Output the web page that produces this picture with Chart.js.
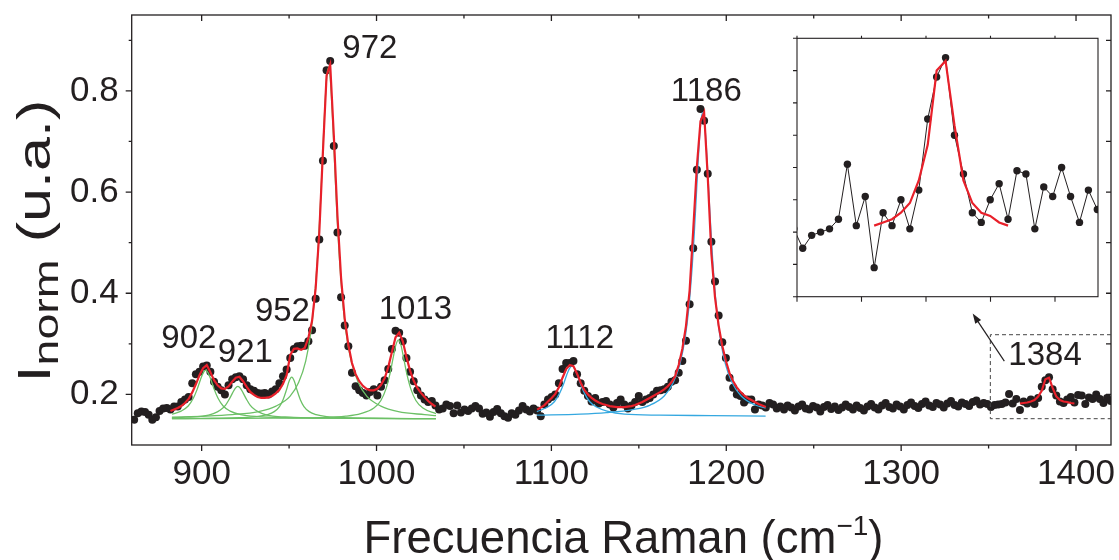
<!DOCTYPE html>
<html>
<head>
<meta charset="utf-8">
<title>Espectro Raman</title>
<script src="https://cdn.jsdelivr.net/npm/chart.js@4.4.1/dist/chart.umd.min.js"></script>
<style>
  html, body { margin: 0; padding: 0; background: #ffffff; }
  #wrap { position: relative; width: 1119px; height: 560px; overflow: hidden; }
  #main { position: absolute; left: 0; top: 0; }
  #inset { position: absolute; left: 777px; top: 24px; }
</style>
</head>
<body>
<div id="wrap">
  <canvas id="main" width="1119" height="560"></canvas>
  <canvas id="inset" width="330" height="285"></canvas>
</div>
<script>
// ---- Spectrum sampling grid (cm^-1) ----
const ramanStart = 861.4;
const ramanStep = 2.076;

// ---- Measured normalised intensity, split into regions (start index on the grid) ----
const intensityLowStart = 0;      // 861 – 1044 cm^-1
const intensityLow = [
  0.150, 0.163, 0.166, 0.165, 0.160, 0.150, 0.155, 0.167, 0.172, 0.173,
  0.170, 0.176, 0.176, 0.185, 0.190, 0.195, 0.222, 0.240, 0.245, 0.255,
  0.257, 0.245, 0.225, 0.215, 0.208, 0.200, 0.218, 0.230, 0.234, 0.236,
  0.230, 0.218, 0.210, 0.207, 0.203, 0.202, 0.203, 0.200, 0.206, 0.210,
  0.222, 0.236, 0.249, 0.272, 0.290, 0.295, 0.296, 0.296, 0.305, 0.327,
  0.389, 0.506, 0.662, 0.841, 0.859, 0.691, 0.520, 0.392, 0.336, 0.295,
  0.243, 0.216, 0.208, 0.203, 0.198, 0.205, 0.210, 0.198, 0.215, 0.228,
  0.250, 0.290, 0.326, 0.322, 0.305, 0.272, 0.245, 0.226, 0.208, 0.198,
  0.190, 0.185, 0.187, 0.178, 0.170, 0.172, 0.180, 0.177, 0.163
];
const intensityMidStart = 89;     // 1046 – 1225 cm^-1
const intensityMid = [
  0.178, 0.164, 0.170, 0.167, 0.172, 0.177, 0.172, 0.162, 0.164, 0.156,
  0.165, 0.171, 0.163, 0.157, 0.154, 0.163, 0.160, 0.168, 0.177, 0.170,
  0.166, 0.172, 0.168, 0.157, 0.180, 0.190, 0.195, 0.200, 0.222, 0.250,
  0.262, 0.262, 0.266, 0.240, 0.222, 0.207, 0.197, 0.186, 0.193, 0.182,
  0.185, 0.187, 0.180, 0.174, 0.183, 0.190, 0.180, 0.172, 0.178, 0.185,
  0.197, 0.185, 0.190, 0.193, 0.200, 0.207, 0.208, 0.210, 0.215, 0.225,
  0.228, 0.243, 0.266, 0.306, 0.378, 0.489, 0.644, 0.764, 0.741, 0.636,
  0.502, 0.423, 0.356, 0.303, 0.272, 0.233, 0.213, 0.200, 0.197, 0.184,
  0.190, 0.190, 0.170, 0.180, 0.178, 0.174, 0.183
];
const intensityHighStart = 176;   // 1227 – 1347 cm^-1
const intensityHigh = [
  0.180, 0.172, 0.176, 0.170, 0.178, 0.174, 0.168, 0.176, 0.180, 0.172,
  0.170, 0.177, 0.174, 0.166, 0.175, 0.179, 0.171, 0.176, 0.169, 0.174,
  0.180, 0.175, 0.170, 0.178, 0.173, 0.168, 0.176, 0.181, 0.174, 0.170,
  0.178, 0.183, 0.175, 0.172, 0.180, 0.176, 0.170, 0.179, 0.184, 0.177,
  0.173, 0.181, 0.186, 0.178, 0.175, 0.183, 0.180, 0.174, 0.182, 0.187,
  0.179, 0.176, 0.184, 0.181, 0.177, 0.185, 0.188, 0.180, 0.183
];
const intensityTailStart = 235;   // 1349 – 1420 cm^-1
const intensityTail = [
  0.181, 0.175, 0.179, 0.180, 0.181, 0.184, 0.201, 0.182, 0.191, 0.169,
  0.186, 0.182, 0.190, 0.181, 0.193, 0.215, 0.228, 0.234, 0.210, 0.198,
  0.186, 0.183, 0.190, 0.195, 0.184, 0.199, 0.198, 0.181, 0.194, 0.191,
  0.200, 0.191, 0.183, 0.193, 0.187
];

// ---- Fitted envelopes (red), on the same grid ----
const fitLowStart = 10;
const fitLow = [
  0.167, 0.170, 0.173, 0.177, 0.183, 0.191, 0.204, 0.220, 0.238, 0.252,
  0.258, 0.244, 0.228, 0.218, 0.212, 0.211, 0.216, 0.225, 0.233, 0.235,
  0.226, 0.215, 0.205, 0.199, 0.195, 0.193, 0.193, 0.194, 0.197, 0.202,
  0.209, 0.221, 0.238, 0.278, 0.290, 0.291, 0.288, 0.292, 0.312, 0.345,
  0.410, 0.520, 0.680, 0.830, 0.852, 0.712, 0.553, 0.430, 0.350, 0.298,
  0.262, 0.240, 0.226, 0.217, 0.211, 0.208, 0.208, 0.211, 0.219, 0.232,
  0.254, 0.284, 0.313, 0.322, 0.305, 0.274, 0.247, 0.227, 0.213, 0.203,
  0.195, 0.187, 0.181, 0.176
];
const fitMidStart = 111;
const fitMid = [
  0.170, 0.174, 0.179, 0.186, 0.193, 0.201, 0.214, 0.233, 0.250, 0.258,
  0.256, 0.241, 0.223, 0.209, 0.200, 0.193, 0.188, 0.184, 0.181, 0.179,
  0.177, 0.176, 0.175, 0.175, 0.175, 0.176, 0.177, 0.179, 0.182, 0.185,
  0.189, 0.193, 0.197, 0.201, 0.205, 0.210, 0.216, 0.224, 0.236, 0.258,
  0.290, 0.335, 0.405, 0.525, 0.650, 0.740, 0.757, 0.630, 0.478, 0.392,
  0.336, 0.296, 0.266, 0.242, 0.226, 0.214, 0.205, 0.198, 0.193, 0.189,
  0.185, 0.181, 0.178, 0.175
];
const fitHighStart = 244;
const fitHigh = [
  0.182, 0.183, 0.184, 0.186, 0.189, 0.196, 0.207, 0.230, 0.233, 0.213,
  0.196, 0.189, 0.186, 0.185, 0.183, 0.182
];

// ---- Lorentzian components, 880–1035 cm^-1 (green) ----
const comp902X = [883, 888.3, 892.3, 895.3, 897.3, 899.3, 900.8, 902.3, 903.8, 905.3, 907.3, 909.3, 912.3, 916.3, 922.3, 932.3, 947.3, 970, 1034];
const comp902Y = [0.161, 0.167, 0.177, 0.193, 0.209, 0.229, 0.242, 0.248, 0.242, 0.229, 0.209, 0.193, 0.177, 0.167, 0.160, 0.156, 0.154, 0.153, 0.152];
const comp921X = [883, 890.7, 900.7, 906.7, 910.7, 913.7, 915.7, 917.7, 919.2, 920.7, 922.2, 923.7, 925.7, 927.7, 930.7, 934.7, 940.7, 950.7, 965.7, 1034];
const comp921Y = [0.154, 0.155, 0.157, 0.162, 0.169, 0.179, 0.190, 0.203, 0.212, 0.216, 0.212, 0.203, 0.190, 0.179, 0.169, 0.162, 0.157, 0.155, 0.153, 0.152];
const comp952X = [883, 906.5, 921.5, 931.5, 937.5, 941.5, 944.5, 946.5, 948.5, 950, 951.5, 953, 954.5, 956.5, 958.5, 961.5, 965.5, 971.5, 981.5, 996.5, 1034];
const comp952Y = [0.152, 0.153, 0.154, 0.156, 0.160, 0.166, 0.176, 0.189, 0.209, 0.226, 0.234, 0.226, 0.209, 0.189, 0.176, 0.166, 0.160, 0.156, 0.154, 0.153, 0.152];
const comp972X = [883, 902.5, 917.5, 932.5, 942.5, 950.5, 955.5, 959.5, 962.5, 964.5, 966.5, 967.5, 968.5, 969.5, 970.5, 971.5, 972.5, 973.5, 974.5, 975.5, 976.5, 977.5, 978.5, 980.5, 982.5, 985.5, 989.5, 994.5, 1002.5, 1012.5, 1027.5, 1034];
const comp972Y = [0.155, 0.157, 0.160, 0.166, 0.177, 0.196, 0.224, 0.266, 0.324, 0.389, 0.484, 0.547, 0.620, 0.698, 0.771, 0.826, 0.846, 0.826, 0.771, 0.698, 0.620, 0.547, 0.484, 0.389, 0.324, 0.266, 0.224, 0.196, 0.177, 0.166, 0.160, 0.158];
const comp1013X = [883, 942.5, 967.5, 982.5, 991, 998.5, 1002.5, 1005.5, 1007.5, 1009.5, 1011, 1012.5, 1014, 1015.5, 1017.5, 1019.5, 1022.5, 1026.5, 1034];
const comp1013Y = [0.152, 0.153, 0.154, 0.157, 0.162, 0.173, 0.188, 0.212, 0.238, 0.272, 0.297, 0.308, 0.297, 0.272, 0.238, 0.212, 0.188, 0.173, 0.162];

// ---- Lorentzian components, 1090–1225 cm^-1 (blue) ----
const comp1112X = [1091.7, 1097.8, 1101.8, 1104.8, 1106.8, 1108.8, 1110.3, 1111.8, 1113.3, 1114.8, 1116.8, 1118.8, 1121.8, 1125.8, 1131.8, 1141.8, 1161.8, 1191.8, 1222.5];
const comp1112Y = [0.166, 0.175, 0.186, 0.203, 0.219, 0.239, 0.251, 0.256, 0.251, 0.239, 0.219, 0.203, 0.186, 0.175, 0.167, 0.161, 0.159, 0.158, 0.157];
const comp1186X = [1091.7, 1116.5, 1131.5, 1146.5, 1156.5, 1164.5, 1169.5, 1173.5, 1176.5, 1178.5, 1180.5, 1181.5, 1182.5, 1183.5, 1184.5, 1185.5, 1186.5, 1187.5, 1188.5, 1189.5, 1190.5, 1191.5, 1192.5, 1194.5, 1196.5, 1199.5, 1203.5, 1208.5, 1216.5, 1222.5];
const comp1186Y = [0.159, 0.161, 0.164, 0.170, 0.179, 0.197, 0.222, 0.260, 0.312, 0.368, 0.452, 0.506, 0.568, 0.634, 0.695, 0.740, 0.757, 0.740, 0.695, 0.634, 0.568, 0.506, 0.452, 0.368, 0.312, 0.260, 0.222, 0.197, 0.179, 0.173];

// ---- Peak labels (cm^-1) ----
const peakLabels = ['902', '921', '952', '972', '1013', '1112', '1186', '1384'];

// ---- Axis ticks ----
const xTickValues = [900, 1000, 1100, 1200, 1300, 1400];
const xMinorTicks = [950, 1050, 1150, 1250, 1350];
const yTickValues = [0.2, 0.4, 0.6, 0.8];
const yMinorTicks = [0.3, 0.5, 0.7, 0.9];
const insetXTicks = [1350, 1365, 1380, 1395, 1410];
const insetYTicks = [0.16, 0.17, 0.18, 0.19, 0.20, 0.21, 0.22, 0.23, 0.24];

// ---------------------------------------------------------------
const FONT = '"Liberation Sans", Arial, Helvetica, sans-serif';
const INK = '#231f20';
const RED = '#e8202a';
const GREEN = '#6cc066';
const BLUE = '#35a8e0';

Chart.defaults.font.family = FONT;
Chart.defaults.color = INK;

function gridPoints(start, values) {
  return values.map((v, j) => ({ x: ramanStart + (start + j) * ramanStep, y: v }));
}
function zipPoints(xs, ys) {
  return xs.map((x, k) => ({ x: x, y: ys[k] }));
}

const spectrum = [].concat(
  gridPoints(intensityLowStart, intensityLow),
  gridPoints(intensityMidStart, intensityMid),
  gridPoints(intensityHighStart, intensityHigh),
  gridPoints(intensityTailStart, intensityTail)
);

function componentSet(xs, ys, color) {
  return {
    data: zipPoints(xs, ys), showLine: true, pointRadius: 0, borderColor: color,
    borderWidth: 1.3, cubicInterpolationMode: 'monotone', order: 2
  };
}
function fitSet(start, values) {
  return {
    data: gridPoints(start, values), showLine: true, pointRadius: 0, borderColor: RED,
    borderWidth: 2.2, tension: 0, order: 1
  };
}

// Peak label anchors in data coordinates (centre of the text)
const labelAnchors = [
  [892.7, 0.310], [925.0, 0.283], [946.2, 0.364], [996.2, 0.882],
  [1022.2, 0.368], [1116.2, 0.310], [1188.6, 0.798], [1382.3, 0.277]
];

function drawRich(ctx, parts, cx, baseline) {
  let total = 0;
  parts.forEach(p => { ctx.font = p.size + 'px ' + FONT; p.w = ctx.measureText(p.t).width; total += p.w; });
  let x = cx - total / 2;
  ctx.textAlign = 'left';
  ctx.textBaseline = 'alphabetic';
  parts.forEach(p => {
    ctx.font = p.size + 'px ' + FONT;
    ctx.fillText(p.t, x, baseline + p.dy);
    x += p.w;
  });
}

const mainDecor = {
  id: 'mainDecor',
  afterDatasetsDraw(chart) {
    const { ctx, chartArea: a, scales: { x, y } } = chart;
    ctx.save();
    // frame and tick marks
    ctx.strokeStyle = INK;
    ctx.lineWidth = 1.3;
    ctx.strokeRect(a.left, a.top, a.right - a.left, a.bottom - a.top);
    ctx.beginPath();
    xTickValues.forEach(v => {
      const p = x.getPixelForValue(v);
      ctx.moveTo(p, a.bottom); ctx.lineTo(p, a.bottom + 6);
      ctx.moveTo(p, a.top); ctx.lineTo(p, a.top + 6);
    });
    xMinorTicks.forEach(v => {
      const p = x.getPixelForValue(v);
      ctx.moveTo(p, a.bottom); ctx.lineTo(p, a.bottom + 3.5);
      ctx.moveTo(p, a.top); ctx.lineTo(p, a.top + 3.5);
    });
    yTickValues.forEach(v => {
      const p = y.getPixelForValue(v);
      ctx.moveTo(a.left, p); ctx.lineTo(a.left - 6, p);
      ctx.moveTo(a.right, p); ctx.lineTo(a.right - 5, p);
    });
    yMinorTicks.forEach(v => {
      const p = y.getPixelForValue(v);
      ctx.moveTo(a.left, p); ctx.lineTo(a.left - 3, p);
      ctx.moveTo(a.right, p); ctx.lineTo(a.right - 5, p);
    });
    ctx.stroke();

    // peak labels
    ctx.fillStyle = INK;
    ctx.font = '33px ' + FONT;
    ctx.textAlign = 'center';
    ctx.textBaseline = 'middle';
    peakLabels.forEach((t, k) => {
      ctx.fillText(t, x.getPixelForValue(labelAnchors[k][0]), y.getPixelForValue(labelAnchors[k][1]));
    });

    // dashed box around the 1384 band
    const bx0 = x.getPixelForValue(1351), bx1 = a.right;
    const by0 = y.getPixelForValue(0.318), by1 = y.getPixelForValue(0.152);
    ctx.setLineDash([4, 3]);
    ctx.lineWidth = 1;
    ctx.strokeStyle = '#444';
    ctx.beginPath();
    ctx.moveTo(bx1, by0); ctx.lineTo(bx0, by0); ctx.lineTo(bx0, by1); ctx.lineTo(bx1, by1);
    ctx.stroke();
    ctx.setLineDash([]);

    // arrow towards the inset
    const ax0 = x.getPixelForValue(1359.0), ay0 = y.getPixelForValue(0.2657);
    const ax1 = x.getPixelForValue(1340.9), ay1 = y.getPixelForValue(0.3598);
    const ang = Math.atan2(ay1 - ay0, ax1 - ax0);
    ctx.strokeStyle = INK;
    ctx.lineWidth = 1.2;
    ctx.beginPath();
    ctx.moveTo(ax0, ay0);
    ctx.lineTo(ax1 - 6 * Math.cos(ang), ay1 - 6 * Math.sin(ang));
    ctx.stroke();
    ctx.fillStyle = INK;
    ctx.beginPath();
    ctx.moveTo(ax1, ay1);
    ctx.lineTo(ax1 - 10 * Math.cos(ang) + 3.5 * Math.sin(ang), ay1 - 10 * Math.sin(ang) - 3.5 * Math.cos(ang));
    ctx.lineTo(ax1 - 10 * Math.cos(ang) - 3.5 * Math.sin(ang), ay1 - 10 * Math.sin(ang) + 3.5 * Math.cos(ang));
    ctx.closePath();
    ctx.fill();

    // axis titles
    ctx.fillStyle = INK;
    drawRich(ctx, [
      { t: 'Frecuencia Raman (cm', size: 45.5, dy: 0 },
      { t: '\u22121', size: 28, dy: -18 },
      { t: ')', size: 45.5, dy: 0 }
    ], 623.5, 553);
    ctx.save();
    ctx.translate(50, 241);
    ctx.rotate(-Math.PI / 2);
    ctx.scale(1.33, 1);
    drawRich(ctx, [
      { t: 'I', size: 46, dy: 0 },
      { t: 'norm', size: 35, dy: 8 },
      { t: ' (u.a.)', size: 46, dy: 0 }
    ], 0, 0);
    ctx.restore();
    ctx.restore();
  }
};

new Chart(document.getElementById('main'), {
  type: 'scatter',
  data: {
    datasets: [
      componentSet(comp902X, comp902Y, GREEN),
      componentSet(comp921X, comp921Y, GREEN),
      componentSet(comp952X, comp952Y, GREEN),
      componentSet(comp972X, comp972Y, GREEN),
      componentSet(comp1013X, comp1013Y, GREEN),
      componentSet(comp1112X, comp1112Y, BLUE),
      componentSet(comp1186X, comp1186Y, BLUE),
      {
        data: spectrum, showLine: false, pointRadius: 4, pointHoverRadius: 4,
        backgroundColor: INK, pointBackgroundColor: INK, pointBorderWidth: 0, borderColor: INK, order: 3
      },
      fitSet(fitLowStart, fitLow),
      fitSet(fitMidStart, fitMid),
      fitSet(fitHighStart, fitHigh)
    ]
  },
  options: {
    responsive: false,
    animation: false,
    devicePixelRatio: 1,
    events: [],
    layout: { padding: { left: 0, right: 8, top: 15, bottom: 0 } },
    plugins: { legend: { display: false }, tooltip: { enabled: false } },
    scales: {
      x: {
        type: 'linear', min: 860, max: 1420,
        afterBuildTicks: s => { s.ticks = xTickValues.map(v => ({ value: v })); },
        afterFit: s => { s.height = 115; s.paddingLeft = 0; s.paddingRight = 0; },
        grid: { display: false, drawTicks: false },
        border: { display: false },
        ticks: { font: { size: 35 }, padding: 8, color: INK, maxRotation: 0, autoSkip: false,
                 callback: v => String(v) }
      },
      y: {
        type: 'linear', min: 0.1, max: 0.95,
        afterBuildTicks: s => { s.ticks = yTickValues.map(v => ({ value: v })); },
        afterFit: s => { s.width = 131.7; s.paddingTop = 0; s.paddingBottom = 0; },
        grid: { display: false, drawTicks: false },
        border: { display: false },
        ticks: { font: { size: 35 }, padding: 13, color: INK, autoSkip: false,
                 callback: v => Number(v).toFixed(1) }
      }
    }
  },
  plugins: [mainDecor]
});

// ---- Inset: zoom on the 1384 cm^-1 band ----
const insetDecor = {
  id: 'insetDecor',
  afterDatasetsDraw(chart) {
    const { ctx, chartArea: a, scales: { x, y } } = chart;
    ctx.save();
    ctx.strokeStyle = INK;
    ctx.lineWidth = 1.1;
    ctx.strokeRect(a.left, a.top, a.right - a.left, a.bottom - a.top);
    ctx.beginPath();
    insetXTicks.forEach(v => {
      const p = x.getPixelForValue(v);
      ctx.moveTo(p, a.bottom); ctx.lineTo(p, a.bottom + 5);
      ctx.moveTo(p, a.top); ctx.lineTo(p, a.top - 2.5);
    });
    insetYTicks.forEach(v => {
      const p = y.getPixelForValue(v);
      ctx.moveTo(a.left, p); ctx.lineTo(a.left - 4, p);
    });
    ctx.stroke();
    ctx.restore();
  }
};

new Chart(document.getElementById('inset'), {
  type: 'scatter',
  data: {
    datasets: [
      {
        data: spectrum.filter(p => p.x > 1345), showLine: true, tension: 0,
        borderColor: INK, borderWidth: 1, pointRadius: 3.7, pointHoverRadius: 3.7,
        backgroundColor: INK, pointBackgroundColor: INK, pointBorderWidth: 0, order: 2
      },
      fitSet(fitHighStart, fitHigh)
    ]
  },
  options: {
    responsive: false,
    animation: false,
    devicePixelRatio: 1,
    events: [],
    layout: { padding: { left: 20, right: 9, top: 14.3, bottom: 12.3 } },
    plugins: { legend: { display: false }, tooltip: { enabled: false } },
    scales: {
      x: { type: 'linear', display: false, min: 1350, max: 1420 },
      y: { type: 'linear', display: false, min: 0.16, max: 0.24 }
    }
  },
  plugins: [insetDecor]
});
</script>
</body>
</html>
